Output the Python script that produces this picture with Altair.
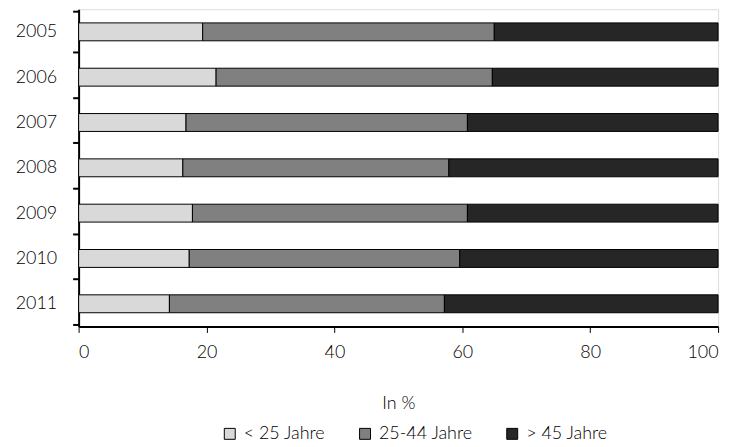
import altair as alt
import pandas as pd

years = ["2005", "2006", "2007", "2008", "2009", "2010", "2011"]
groups = ["< 25 Jahre", "25-44 Jahre", "> 45 Jahre"]
lt25 = [19.4, 21.5, 16.8, 16.3, 17.8, 17.3, 14.2]
mid = [45.6, 43.2, 44.0, 41.6, 43.0, 42.3, 43.0]
gt45 = [35.0, 35.3, 39.2, 42.1, 39.2, 40.4, 42.8]
colors = ["#d9d9d9", "#808080", "#262626"]
ticks = [0, 20, 40, 60, 80, 100]

rows = []
for i, y in enumerate(years):
    for j, vals in enumerate([lt25, mid, gt45]):
        rows.append({"Jahr": y, "Gruppe": groups[j], "idx": j, "Wert": vals[i]})
df = pd.DataFrame(rows)

FONT = "Lato"
FW = 300
FS = 18

chart = alt.Chart(df).mark_bar(size=18, stroke="black", strokeWidth=1).encode(
    y=alt.Y("Jahr:N", sort=years, title=None,
            axis=alt.Axis(tickBand="extent", tickSize=6, tickColor="black",
                          domainColor="black", domainWidth=2, tickWidth=2,
                          labelFont=FONT, labelFontSize=FS, labelFontWeight=FW,
                          labelColor="black", labelPadding=16, grid=False)),
    x=alt.X("Wert:Q", title="In %", stack="zero",
            scale=alt.Scale(domain=[0, 100], nice=False),
            axis=alt.Axis(values=ticks, tickSize=6, tickColor="black",
                          domainColor="black", domainWidth=2, tickWidth=1,
                          labelFont=FONT, labelFontSize=FS, labelFontWeight=FW,
                          labelColor="black", labelPadding=11,
                          titleFont=FONT, titleFontSize=FS, titleFontWeight=FW,
                          titleColor="black", titlePadding=34, grid=False)),
    color=alt.Color("Gruppe:N", scale=alt.Scale(domain=groups, range=colors),
                    legend=alt.Legend(title=None, orient="none", direction="horizontal",
                                      legendX=143, legendY=418,
                                      symbolType="square", symbolSize=121,
                                      symbolStrokeColor="black", symbolStrokeWidth=1,
                                      labelFont=FONT, labelFontSize=FS, labelFontWeight=FW,
                                      labelColor="black", labelOffset=5, columnPadding=30)),
    order=alt.Order("idx:Q", sort="ascending"),
).properties(
    width=643, height=319,
    padding={"left": 7, "top": -9, "right": 15, "bottom": 0},
).configure_view(stroke=None).configure(background="white")

chart.save("out.html", embed_options={"renderer": "svg", "actions": False})
